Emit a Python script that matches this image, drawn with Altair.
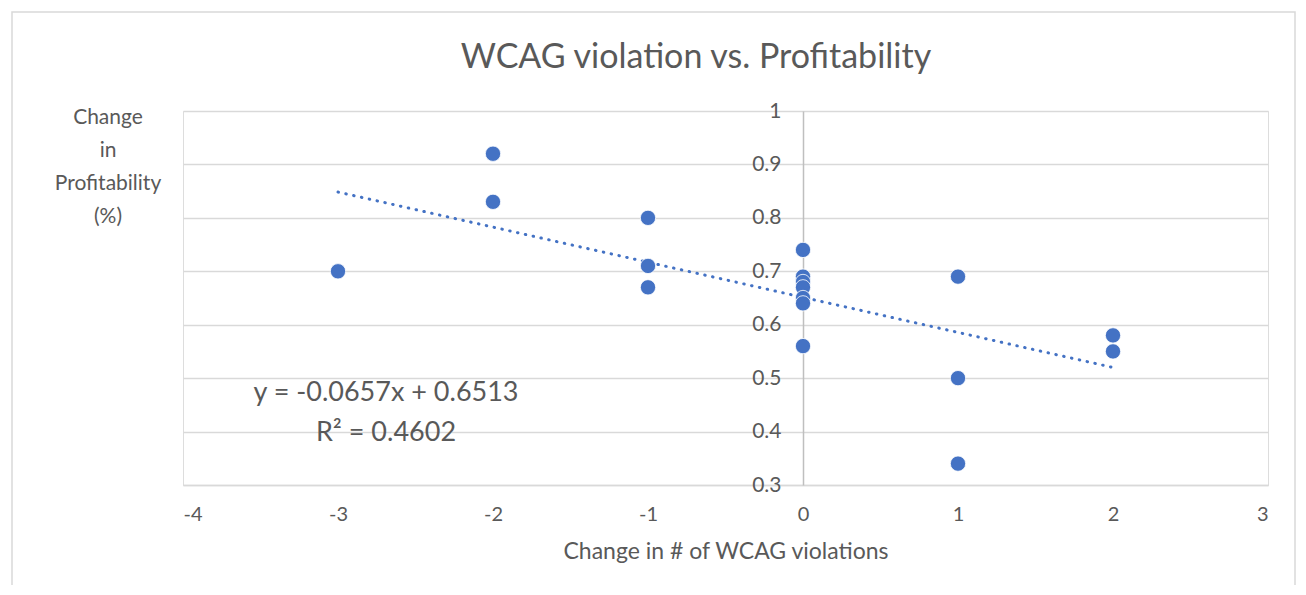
import altair as alt
import pandas as pd

# Data
x_vals = [-3, -2, -2, -1, -1, -1, 0, 0, 0, 0, 0, 0, 0, 1, 1, 1, 2, 2]
y_vals = [0.70, 0.92, 0.83, 0.80, 0.71, 0.67, 0.74, 0.69, 0.68, 0.67, 0.65, 0.64, 0.56,
          0.69, 0.50, 0.34, 0.58, 0.55]
x_ticks = [-4, -3, -2, -1, 0, 1, 2, 3]
y_ticks = [0.3, 0.4, 0.5, 0.6, 0.7, 0.8, 0.9, 1.0]
title_text = "WCAG violation vs. Profitability"
x_title = "Change in # of WCAG violations"
y_title_lines = ["Change", "in", "Profitability", "(%)"]
eq_lines = ["y = -0.0657x + 0.6513", "R\u00b2 = 0.4602"]

df = pd.DataFrame({"x": x_vals, "y": y_vals})

FONT = "Lato"
GREY = "#595959"
BLUE = "#4472C4"
W, H = 1085, 374

xscale = alt.Scale(domain=[-4, 3], nice=False, zero=False)
yscale = alt.Scale(domain=[0.3, 1.0], nice=False, zero=False)

base = alt.Chart(df)

points = base.mark_circle(size=235, opacity=1, color=BLUE, stroke="white", strokeWidth=0.8).encode(
    x=alt.X("x:Q", scale=xscale,
            axis=alt.Axis(values=x_ticks, title=x_title, grid=False, ticks=False,
                          domainColor="#d9d9d9", domainWidth=1.5,
                          labelFontSize=20, labelColor=GREY, labelFont=FONT, labelPadding=19,
                          labelExpr="'' + datum.value",
                          titleFontSize=23, titleColor=GREY, titleFont=FONT, titleFontWeight="normal",
                          titlePadding=16)),
    y=alt.Y("y:Q", scale=yscale,
            axis=alt.Axis(values=y_ticks, title=None, grid=True, gridColor="#d9d9d9", gridWidth=1.5,
                          ticks=False, domainColor="#bfbfbf", domainWidth=1.5,
                          labelFontSize=21, labelColor=GREY, labelFont=FONT, labelPadding=22,
                          offset=-620, format="~g")),
)

trend = base.transform_regression("x", "y").mark_line(
    color=BLUE, strokeWidth=3, strokeCap="round", strokeDash=[0.5, 7.5]
).encode(x=alt.X("x:Q", scale=xscale), y=alt.Y("y:Q", scale=yscale))

title = alt.Chart(pd.DataFrame({"t": [title_text]})).mark_text(
    font=FONT, fontSize=34, color=GREY, align="center", baseline="middle"
).encode(text="t:N", x=alt.value(513), y=alt.value(-53))

ytitle = alt.Chart(pd.DataFrame({"t": ["\n".join(y_title_lines)]})).mark_text(
    font=FONT, fontSize=21, color=GREY, align="center", baseline="top", lineBreak="\n", lineHeight=33
).encode(text="t:N", x=alt.value(-75), y=alt.value(-4))

eq = alt.Chart(pd.DataFrame({"t": ["\n".join(eq_lines)]})).mark_text(
    font=FONT, fontSize=27, color=GREY, align="center", baseline="middle", lineBreak="\n", lineHeight=40
).encode(text="t:N", x=alt.value(203), y=alt.value(282))

border = alt.Chart(pd.DataFrame({"a": [0]})).mark_rect(
    fill=None, stroke="#d9d9d9", strokeWidth=1.5, clip=False
).encode(x=alt.value(-171), x2=alt.value(1112), y=alt.value(-99), y2=alt.value(600))

chart = alt.layer(border, trend, points, title, ytitle, eq).properties(
    width=W, height=H,
    autosize=alt.AutoSizeParams(type="none"),
    padding={"left": 175, "top": 103, "right": 30, "bottom": 100},
).configure_view(stroke=None).configure(background="white")

chart.save("out.html", embed_options={"renderer": "svg", "actions": False})
